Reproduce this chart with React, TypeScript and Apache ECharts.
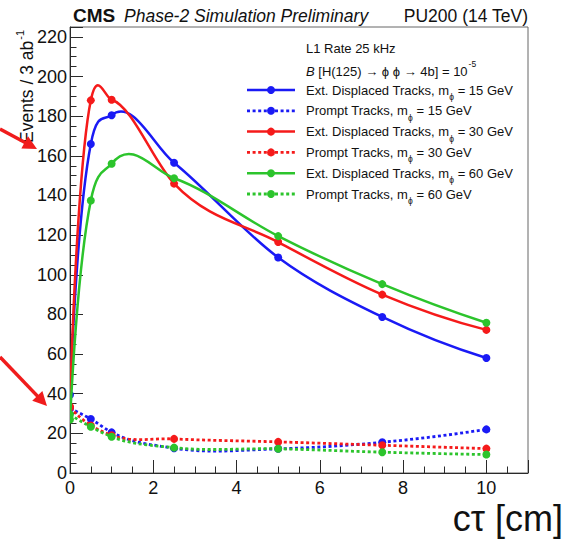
import React, { useEffect, useRef } from 'react';
import * as echarts from 'echarts';

// ---------- data ----------
const ctau = [0, 0.5, 1, 2.5, 5, 7.5, 10];
const extDisp15 = [39.5, 166, 180.5, 156.5, 108.7, 78.7, 58];
const prompt15 = [32.5, 27.2, 20.5, 12.5, 12.2, 15.5, 22];
const extDisp30 = [33.5, 188, 188.3, 146, 116.5, 90, 72.2];
const prompt30 = [33, 24, 19, 17.2, 15.7, 14, 12.3];
const extDisp60 = [27, 137.5, 156, 148.7, 119.5, 95.3, 75.8];
const prompt60 = [29.5, 23.3, 18.3, 12.8, 12.2, 10.5, 9.3];

const masses = ['15', '30', '60'];
const trackTypes = ['Ext. Displaced Tracks', 'Prompt Tracks'];
const seriesValues = [extDisp15, prompt15, extDisp30, prompt30, extDisp60, prompt60];
const seriesColors = ['#1a1af5', '#1a1af5', '#f51a1a', '#f51a1a', '#2cc42c', '#2cc42c'];
const seriesDotted = [false, true, false, true, false, true];

const FONT = "'Liberation Sans', Arial, Helvetica, sans-serif";

function measure(text: string, font: string) {
  const c = document.createElement('canvas').getContext('2d')!;
  c.font = font;
  return c.measureText(text).width;
}

// ROOT-like smoothing ("C" draw option): curve built in a normalised space
// (x scaled to 0..ratio, y to 0..1), tangent at each point = chord directions
// weighted by the length of the opposite chord; returns Bezier control points in data space.
function smoothSegments(xs: number[], ys: number[]) {
  const n = xs.length;
  const xmin = Math.min(...xs), xmax = Math.max(...xs);
  const ymin = Math.min(...ys), ymax = Math.max(...ys);
  let six = 1, siy = 1;
  for (let i = 2; i < n; i++) {
    if ((xs[i] - xs[i - 1]) * (xs[i - 1] - xs[i - 2]) < 0) six++;
    if ((ys[i] - ys[i - 1]) * (ys[i - 1] - ys[i - 2]) < 0) siy++;
  }
  const ratio = six > 1 ? siy / six : 20;
  const xr = ratio / (xmax - xmin || 1);
  const yr = 1 / (ymax - ymin || 1);
  const P = xs.map((x, i) => [(x - xmin) * xr, (ys[i] - ymin) * yr]);
  const unit = (v: number[]) => {
    const l = Math.hypot(v[0], v[1]) || 1;
    return [v[0] / l, v[1] / l];
  };
  const T: number[][] = new Array(n);
  for (let i = 1; i < n - 1; i++) {
    const c1 = [P[i][0] - P[i - 1][0], P[i][1] - P[i - 1][1]];
    const c2 = [P[i + 1][0] - P[i][0], P[i + 1][1] - P[i][1]];
    const l1 = Math.hypot(c1[0], c1[1]);
    const l2 = Math.hypot(c2[0], c2[1]);
    T[i] = unit([(c1[0] / l1) * l2 + (c2[0] / l2) * l1, (c1[1] / l1) * l2 + (c2[1] / l2) * l1]);
  }
  if (n > 2) {
    const u0 = unit([P[1][0] - P[0][0], P[1][1] - P[0][1]]);
    T[0] = unit([2 * u0[0] - T[1][0], 2 * u0[1] - T[1][1]]);
    const un = unit([P[n - 1][0] - P[n - 2][0], P[n - 1][1] - P[n - 2][1]]);
    T[n - 1] = unit([2 * un[0] - T[n - 2][0], 2 * un[1] - T[n - 2][1]]);
  } else {
    const u = unit([P[1][0] - P[0][0], P[1][1] - P[0][1]]);
    T[0] = u;
    T[1] = u;
  }
  const back = (p: number[]) => [p[0] / xr + xmin, p[1] / yr + ymin];
  const segs: number[][][] = [];
  for (let i = 0; i < n - 1; i++) {
    const L = Math.hypot(P[i + 1][0] - P[i][0], P[i + 1][1] - P[i][1]) / 3;
    const c1 = [P[i][0] + T[i][0] * L, P[i][1] + T[i][1] * L];
    const c2 = [P[i + 1][0] - T[i + 1][0] * L, P[i + 1][1] - T[i + 1][1] * L];
    segs.push([[xs[i], ys[i]], back(c1), back(c2), [xs[i + 1], ys[i + 1]]]);
  }
  return segs;
}

function curveSeries(name: string, ys: number[], color: string, dotted: boolean) {
  const segs = smoothSegments(ctau, ys);
  return {
    type: 'custom',
    name,
    xAxisIndex: 0,
    yAxisIndex: 0,
    clip: true,
    data: ctau.map((x, i) => [x, ys[i]]),
    encode: { x: 0, y: 1 },
    renderItem: (params: any, api: any) => {
      const i = params.dataIndex;
      const p = api.coord([ctau[i], ys[i]]);
      const children: any[] = [];
      if (i < segs.length) {
        const s = segs[i].map((q) => api.coord(q));
        children.push({
          type: 'bezierCurve',
          shape: {
            x1: s[0][0], y1: s[0][1],
            cpx1: s[1][0], cpy1: s[1][1],
            cpx2: s[2][0], cpy2: s[2][1],
            x2: s[3][0], y2: s[3][1],
          },
          style: {
            stroke: color,
            lineWidth: dotted ? 2.8 : 2.5,
            fill: 'none',
            lineDash: dotted ? [3, 2.6] : null,
          },
        });
      }
      children.push({
        type: 'circle',
        shape: { cx: p[0], cy: p[1], r: 4 },
        style: { fill: color, stroke: 'none' },
      });
      return { type: 'group', children };
    },
  };
}

function txt(text: string, x: number, y: number, font: string, align = 'left', extra: any = {}) {
  return {
    type: 'text',
    x,
    y,
    style: {
      text,
      font,
      fill: '#111',
      align,
      textAlign: align,
      verticalAlign: 'middle',
      textVerticalAlign: 'middle',
      ...extra,
    },
  };
}

function arrow(sx: number, sy: number, tx: number, ty: number, color: string) {
  const dx = tx - sx, dy = ty - sy;
  const L = Math.hypot(dx, dy);
  const ux = dx / L, uy = dy / L;
  const hl = 14, hw = 7;
  const bx = tx - ux * hl, by = ty - uy * hl;
  return [
    { type: 'line', shape: { x1: sx, y1: sy, x2: bx + ux * 2, y2: by + uy * 2 }, style: { stroke: color, lineWidth: 3.5 } },
    {
      type: 'polygon',
      shape: { points: [[tx, ty], [bx - uy * hw, by + ux * hw], [bx + uy * hw, by - ux * hw]] },
      style: { fill: color },
    },
  ];
}

export default function App() {
  const ref = useRef<HTMLDivElement>(null);
  useEffect(() => {
    if (!ref.current) return;
    const chart = echarts.init(ref.current, undefined, { renderer: 'svg' });

    const graphics: any[] = [];
    // title
    const fCMS = `bold 19px ${FONT}`;
    graphics.push(txt('CMS', 73, 15.5, fCMS));
    graphics.push(txt('Phase-2 Simulation Preliminary', 124, 15.5, `italic 17.5px ${FONT}`));
    graphics.push(txt('PU200 (14 TeV)', 528, 15.5, `17.5px ${FONT}`, 'right'));

    // y axis title
    const fY = `17.5px ${FONT}`;
    const fYs = `11px ${FONT}`;
    const w1 = measure('Events / 3 ab', fY);
    const w2 = measure('-1', fYs);
    const yTop = 30;
    graphics.push({
      type: 'group',
      x: 27,
      y: yTop + w1 + w2 + 1,
      rotation: Math.PI / 2,
      children: [txt('Events / 3 ab', 0, 0, fY), txt('-1', w1 + 1, -7, fYs)],
    });

    // x axis title
    graphics.push(txt('c\u03c4 [cm]', 563, 518, `36px ${FONT}`, 'right'));

    // legend
    const fL = `13px ${FONT}`;
    const fLi = `italic 13px ${FONT}`;
    const fSub = `8.5px ${FONT}`;
    const lx = 306;
    graphics.push(txt('L1 Rate 25 kHz', lx, 48, fL));
    const wB = measure('B', fLi);
    const line2 = ' [H(125) \u2192 \u03d5 \u03d5 \u2192 4b] = 10';
    graphics.push(txt('B', lx, 71, fLi));
    graphics.push(txt(line2, lx + wB, 71, fL));
    graphics.push(txt('-5', lx + wB + measure(line2, fL) + 1, 64, fSub));

    const prefixes: string[] = [];
    for (let m = 0; m < masses.length; m++) {
      for (let t = 0; t < trackTypes.length; t++) prefixes.push(trackTypes[t]);
    }
    for (let k = 0; k < seriesValues.length; k++) {
      const y = 90 + k * 20.8;
      const color = seriesColors[k];
      const dotted = seriesDotted[k];
      const mass = masses[Math.floor(k / 2)];
      graphics.push({
        type: 'line',
        shape: { x1: 247, y1: y, x2: 295, y2: y },
        style: { stroke: color, lineWidth: dotted ? 2.8 : 2.5, lineDash: dotted ? [3, 2.6] : null },
      });
      graphics.push({ type: 'circle', shape: { cx: 271, cy: y, r: 4 }, style: { fill: color } });
      const p1 = `${prefixes[k]}, m`;
      const wp = measure(p1, fL);
      graphics.push(txt(p1, lx, y, fL));
      graphics.push(txt('\u03d5', lx + wp, y + 7, fSub));
      graphics.push(txt(` = ${mass} GeV`, lx + wp + measure('\u03d5', fSub), y, fL));
    }

    // red arrows
    graphics.push(...arrow(0, 129, 37, 149, '#f01c1c'));
    graphics.push(...arrow(0, 357, 47, 406, '#f01c1c'));

    const axisColor = '#2a2a2a';
    const series = seriesValues.map((ys, k) =>
      curveSeries(`${prefixes[k]} m${masses[Math.floor(k / 2)]}`, ys, seriesColors[k], seriesDotted[k])
    );

    chart.setOption({
      animation: false,
      backgroundColor: '#fff',
      grid: {
        left: 70,
        top: 27,
        width: 458,
        height: 446,
        show: true,
        borderColor: '#666',
        borderWidth: 1,
        backgroundColor: 'transparent',
      },
      xAxis: [
        {
          type: 'value',
          min: 0,
          max: 11,
          interval: 2,
          position: 'bottom',
          axisLine: { show: true, lineStyle: { color: axisColor, width: 1 } },
          axisTick: { show: true, inside: true, length: 13, lineStyle: { color: axisColor } },
          axisLabel: {
            formatter: (v: number) => (v % 2 === 0 && v <= 10 ? String(v) : ''),
            fontSize: 18,
            color: '#111',
            fontFamily: FONT,
            margin: 6,
          },
          splitLine: { show: false },
        },
        {
          type: 'value',
          min: 0,
          max: 11,
          interval: 0.5,
          position: 'bottom',
          axisLine: { show: false },
          axisTick: { show: true, inside: true, length: 6.5, lineStyle: { color: axisColor } },
          axisLabel: { show: false },
          splitLine: { show: false },
        },
      ],
      yAxis: [
        {
          type: 'value',
          min: 0,
          max: 225,
          interval: 20,
          position: 'left',
          axisLine: { show: true, lineStyle: { color: axisColor, width: 1 } },
          axisTick: { show: true, inside: true, length: 13, lineStyle: { color: axisColor } },
          axisLabel: {
            formatter: (v: number) => (v % 20 === 0 ? String(v) : ''),
            fontSize: 18,
            color: '#111',
            fontFamily: FONT,
            margin: 3,
          },
          splitLine: { show: false },
        },
        {
          type: 'value',
          min: 0,
          max: 225,
          interval: 5,
          position: 'left',
          axisLine: { show: false },
          axisTick: { show: true, inside: true, length: 6.5, lineStyle: { color: axisColor } },
          axisLabel: { show: false },
          splitLine: { show: false },
        },
      ],
      series,
      graphic: graphics,
    });
    return () => chart.dispose();
  }, []);
  return (
    <div
      ref={ref}
      style={{ position: 'fixed', left: 0, top: 0, width: 578, height: 541, background: '#fff' }}
    />
  );
}
